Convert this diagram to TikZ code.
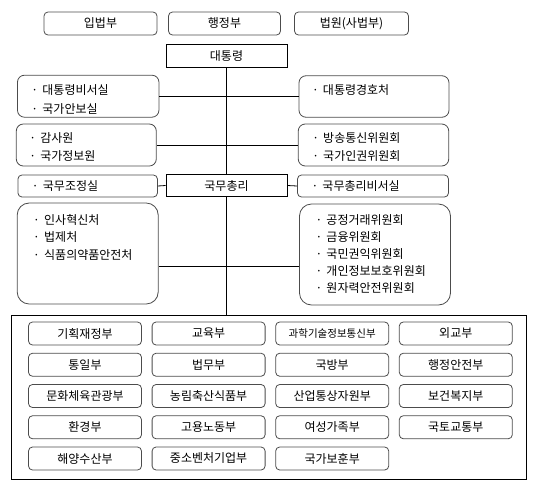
\documentclass[tikz,border=0pt]{standalone}
\usepackage{fontspec}
\setmainfont{Noto Sans CJK KR}
\newcommand{\dotmark}{\makebox[11pt][l]{·}}
\begin{document}
\begin{tikzpicture}[x=1pt,y=-1pt,line width=0.8pt,
   unit/.style={draw=black!70,rounded corners=4pt,inner sep=0pt,
     minimum height=23pt,font=\fontsize{12}{14}\selectfont},
   head/.style={draw,inner sep=0pt,minimum width=121pt,minimum height=22.5pt,
     font=\fontsize{12}{14}\selectfont},
   group/.style={draw=black!70,rounded corners=7pt,inner sep=0pt},
   items/.style={anchor=north west,inner sep=0pt,align=left,
     font=\fontsize{12}{18.5}\selectfont},
   ministry/.style={unit,minimum width=113pt}]
   \useasboundingbox (0,0) rectangle (541,493);

   % three branches
   \node[unit,minimum width=113pt] (legis) at (100.5,23.5) {입법부};
   \node[unit,minimum width=112pt] (exec) at (224.5,23.5) {행정부};
   \node[unit,minimum width=114pt] (court) at (351.5,23.5) {법원(사법부)};

   % president and prime minister
   \node[head] (pres) at (226.5,56) {대통령};
   \node[head] (pm) at (226.5,185.5) {국무총리};

   % offices under the president
   \node[group,minimum width=141.5pt,minimum height=42pt] (prsec) at (88.2,96.2) {};
   \node[items] (prsec-t) at ([xshift=14pt,yshift=-9.5pt]prsec.north west)
     {\dotmark 대통령비서실\\ \dotmark 국가안보실};
   \node[group,minimum width=150pt,minimum height=41.5pt] (guard) at (374,96.5) {};
   \node[items] (guard-t) at ([xshift=13pt,yshift=-8.5pt]guard.north west)
     {\dotmark 대통령경호처};

   \node[group,minimum width=140pt,minimum height=42pt] (audit) at (86.3,145) {};
   \node[items,font=\fontsize{12}{18}\selectfont] (audit-t)
     at ([xshift=13pt,yshift=-9pt]audit.north west)
     {\dotmark 감사원\\ \dotmark 국가정보원};
   \node[group,minimum width=150.5pt,minimum height=42pt] (comm) at (373.5,145) {};
   \node[items,font=\fontsize{12}{18}\selectfont] (comm-t)
     at ([xshift=14pt,yshift=-9pt]comm.north west)
     {\dotmark 방송통신위원회\\ \dotmark 국가인권위원회};

   % offices under the prime minister
   \node[unit,minimum width=139.5pt,minimum height=22pt] (coord) at (87.7,186) {};
   \node[items] (coord-t) at ([xshift=14pt,yshift=-6pt]coord.north west)
     {\dotmark 국무조정실};
   \node[unit,minimum width=151pt,minimum height=22pt] (pmsec) at (373,186) {};
   \node[items] (pmsec-t) at ([xshift=14pt,yshift=-6pt]pmsec.north west)
     {\dotmark 국무총리비서실};

   \node[group,rounded corners=12pt,minimum width=141pt,minimum height=101pt]
     (agency) at (87.7,253.5) {};
   \node[items,font=\fontsize{12}{17.3}\selectfont] (agency-t)
     at ([xshift=16pt,yshift=-11.5pt]agency.north west)
     {\dotmark 인사혁신처\\ \dotmark 법제처\\ \dotmark 식품의약품안전처};
   \node[group,rounded corners=12pt,minimum width=151pt,minimum height=101pt]
     (board) at (375,254.5) {};
   \node[items,font=\fontsize{12}{16.9}\selectfont] (board-t)
     at ([xshift=16pt,yshift=-10.5pt]board.north west)
     {\dotmark 공정거래위원회\\ \dotmark 금융위원회\\ \dotmark 국민권익위원회\\
      \dotmark 개인정보보호위원회\\ \dotmark 원자력안전위원회};

   % ministries
   \node[draw,inner sep=0pt,minimum width=515.7pt,minimum height=164pt]
     (mins) at (268.9,397) {};
   \node[ministry] (m11) at (85,333.5) {기획재정부};
   \node[ministry] (m12) at (208.6,333.5) {교육부};
   \node[ministry,font=\fontsize{10.5}{12}\selectfont] (m13) at (332.2,333.5) {과학기술정보통신부};
   \node[ministry] (m14) at (455.8,333.5) {외교부};
   \node[ministry] (m21) at (85,364.75) {통일부};
   \node[ministry] (m22) at (208.6,364.75) {법무부};
   \node[ministry] (m23) at (332.2,364.75) {국방부};
   \node[ministry] (m24) at (455.8,364.75) {행정안전부};
   \node[ministry] (m31) at (85,396) {문화체육관광부};
   \node[ministry] (m32) at (208.6,396) {농림축산식품부};
   \node[ministry] (m33) at (332.2,396) {산업통상자원부};
   \node[ministry] (m34) at (455.8,396) {보건복지부};
   \node[ministry] (m41) at (85,427.25) {환경부};
   \node[ministry] (m42) at (208.6,427.25) {고용노동부};
   \node[ministry] (m43) at (332.2,427.25) {여성가족부};
   \node[ministry] (m44) at (455.8,427.25) {국토교통부};
   \node[ministry] (m51) at (85,458.5) {해양수산부};
   \node[ministry] (m52) at (208.6,458.5) {중소벤처기업부};
   \node[ministry] (m53) at (332.2,458.5) {국가보훈부};

   % connectors
   \draw (pres.south) -- (pm.north);
   \draw (pm.south) -- (pm.south |- mins.north);
   \draw (prsec.east) -- (prsec.east -| guard.west);
   \draw (audit.east) -- (audit.east -| comm.west);
   \draw (coord.east) -- (pm.west);
   \draw (pm.east) -- (pmsec.west);
   \draw ([yshift=-12.5pt]agency.east) -- ([yshift=-12.5pt]agency.east -| board.west);
\end{tikzpicture}
\end{document}
